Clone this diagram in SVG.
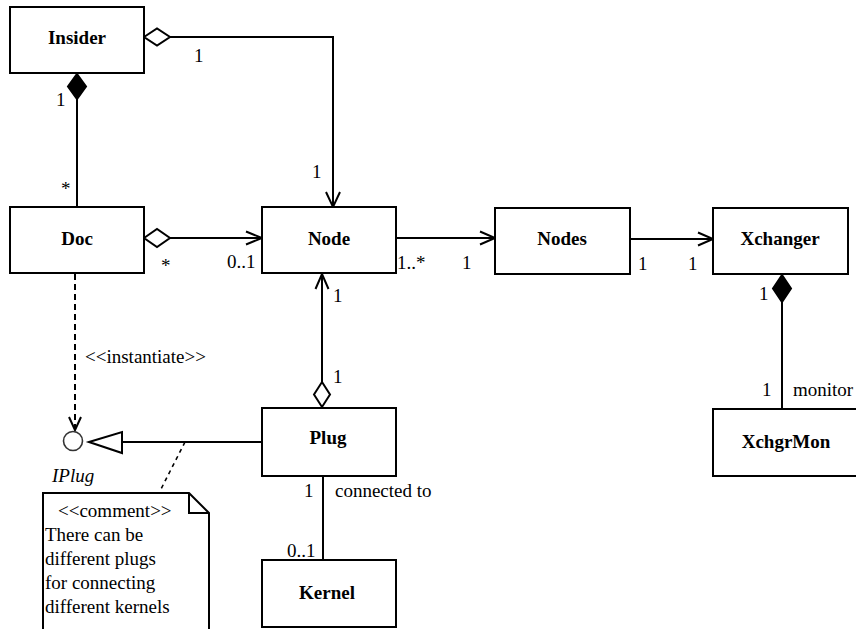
<svg xmlns="http://www.w3.org/2000/svg" width="856" height="629" viewBox="0 0 856 629">
<style>
.box{fill:#fff;stroke:#000;stroke-width:2}
.ln{fill:none;stroke:#000;stroke-width:2}
.dash{fill:none;stroke:#000;stroke-width:2;stroke-dasharray:6,4}
.dot{fill:none;stroke:#000;stroke-width:1.6;stroke-dasharray:4,4}
.hol{fill:#fff;stroke:#000;stroke-width:2;stroke-linejoin:miter}
.sol{fill:#000;stroke:#000;stroke-width:2}
text{font-family:'Liberation Serif','Times New Roman','DejaVu Serif',serif;font-size:19px;fill:#000}
.b{font-weight:bold;text-anchor:middle}
.i{font-style:italic}
</style>
<rect width="856" height="629" fill="#fff"/>
<g id="connectors" font-family="Liberation Serif, DejaVu Serif, serif">
  <polyline class="ln" points="170,37 333,37 333,207"/>
  <polygon class="hol" points="144,37 157,28.5 170,37 157,45.5"/>
  <polyline class="ln" points="326,192 333,207 340,192"/>
  <text x="194" y="62">1</text>
  <text x="312" y="178">1</text>
  <line class="ln" x1="77" y1="99" x2="77" y2="207"/>
  <polygon class="sol" points="77,74 86,86.5 77,99 68,86.5"/>
  <text x="56" y="106">1</text>
  <text x="61" y="195">*</text>
  <line class="ln" x1="170" y1="238" x2="262" y2="238"/>
  <polygon class="hol" points="144,238 157,229 170,238 157,247"/>
  <polyline class="ln" points="246,231.5 262,238 246,244.5"/>
  <text x="161" y="272">*</text>
  <text x="227" y="268">0..1</text>
  <line class="ln" x1="396" y1="238" x2="495" y2="238"/>
  <polyline class="ln" points="480,231.5 495,238 480,244.5"/>
  <text x="397" y="269">1..*</text>
  <text x="462" y="269">1</text>
  <line class="ln" x1="630" y1="239" x2="713" y2="239"/>
  <polyline class="ln" points="698,232.5 713,239 698,245.5"/>
  <text x="638" y="270">1</text>
  <text x="688" y="270">1</text>
  <line class="ln" x1="782" y1="302" x2="782" y2="409"/>
  <polygon class="sol" points="782,275 791,288.5 782,302 773,288.5"/>
  <text x="759" y="300">1</text>
  <text x="762" y="396">1</text>
  <text x="793" y="396">monitor</text>
  <line class="ln" x1="322" y1="274" x2="322" y2="382"/>
  <polyline class="ln" points="315.5,289 322,274 328.5,289"/>
  <polygon class="hol" points="322,382 330,394.5 322,407 314,394.5"/>
  <text x="333" y="302">1</text>
  <text x="333" y="383">1</text>
  <line class="dash" x1="75" y1="274" x2="75" y2="429"/>
  <polyline class="ln" points="69,417 75,430 81,417"/>
  <text x="85" y="363">&lt;&lt;instantiate&gt;&gt;</text>
  <line class="ln" x1="122" y1="442" x2="262" y2="442"/>
  <polygon class="hol" points="89,442 122,432 122,453"/>
  <line class="dot" x1="185" y1="442" x2="160" y2="491"/>
  <line class="ln" x1="323" y1="476" x2="323" y2="560"/>
  <text x="304" y="497">1</text>
  <text x="335" y="497">connected to</text>
  <text x="287" y="557">0..1</text>
</g>
<g id="Insider"><rect class="box" x="10" y="7" width="134" height="66"/><text class="b" x="77" y="44">Insider</text></g>
<g id="Doc"><rect class="box" x="10" y="207" width="134" height="66"/><text class="b" x="77" y="245">Doc</text></g>
<g id="Node"><rect class="box" x="262" y="207" width="134" height="66"/><text class="b" x="329" y="245">Node</text></g>
<g id="Nodes"><rect class="box" x="495" y="208" width="135" height="66"/><text class="b" x="562" y="245">Nodes</text></g>
<g id="Xchanger"><rect class="box" x="713" y="208" width="135" height="66"/><text class="b" x="780" y="245">Xchanger</text></g>
<g id="XchgrMon"><rect class="box" x="713" y="409" width="150" height="67"/><text class="b" x="786" y="448">XchgrMon</text></g>
<g id="Plug"><rect class="box" x="262" y="408" width="134" height="68"/><text class="b" x="328" y="444">Plug</text></g>
<g id="Kernel"><rect class="box" x="262" y="560" width="134" height="67"/><text class="b" x="327" y="599">Kernel</text></g>
<g id="IPlug"><circle cx="73" cy="441" r="9.5" fill="#fff" stroke="#333" stroke-width="1.6"/><text class="i" x="52" y="482">IPlug</text></g>
<g id="Note">
  <path class="box" d="M43,640 L43,493 L189,493 L209,513 L209,640"/>
  <polyline class="ln" points="189,493 189,513 209,513"/>
  <text x="58" y="517">&lt;&lt;comment&gt;&gt;</text>
  <text x="45" y="541">There can be</text>
  <text x="45" y="565">different plugs</text>
  <text x="45" y="589">for connecting</text>
  <text x="45" y="613">different kernels</text>
</g>
</svg>
